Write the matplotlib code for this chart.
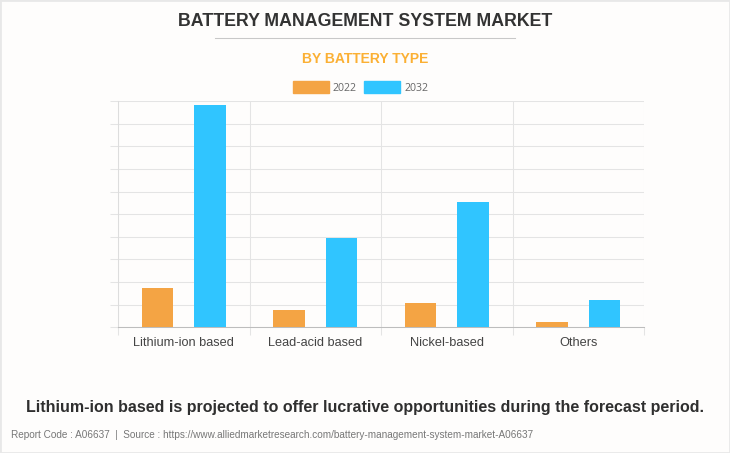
import matplotlib
matplotlib.use("Agg")
import matplotlib.pyplot as plt
import numpy as np
from matplotlib.patches import Patch, Rectangle

categories = ["Lithium-ion based", "Lead-acid based", "Nickel-based", "Others"]
years = ["2022", "2032"]
values_2022 = [1.75, 0.77, 1.08, 0.24]
values_2032 = [9.85, 3.96, 5.52, 1.22]

W, H = 730, 453
bg = "#fefdfc"
grid_col = "#e4e4e4"

plt.rcParams["font.family"] = ["Liberation Sans", "DejaVu Sans"]

fig = plt.figure(figsize=(W / 100, H / 100), dpi=100, facecolor=bg)
ax = fig.add_axes([118 / W, 1 - 327.2 / H, (644 - 118) / W, 226 / H], facecolor=bg)

x = np.arange(len(categories))
ax.bar(x - 0.2, values_2022, 0.24, color="#f4a444", zorder=3)
ax.bar(x + 0.2, values_2032, 0.24, color="#30c5ff", zorder=3)

ax.set_xlim(-0.5, 3.5)
ax.set_ylim(0, 10)
ax.set_yticks(np.arange(0, 11))
ax.set_yticklabels([])
ax.set_xticks(x)
ax.set_xticklabels(categories, fontsize=9.15, color="#444444")
ax.tick_params(axis="x", length=0, pad=7)
ax.tick_params(axis="y", length=5.8, width=0.75, color=grid_col)
ax.set_xticks(np.arange(-0.5, 4), minor=True)
ax.tick_params(axis="x", which="minor", length=5.5, width=0.75, color=grid_col)
ax.grid(True, axis="y", color=grid_col, lw=0.75, zorder=0)
ax.grid(True, axis="x", which="minor", color=grid_col, lw=0.75, zorder=0)
ax.grid(False, axis="x", which="major")
for s in ["top", "right"]:
    ax.spines[s].set_visible(False)
ax.spines["left"].set_color("#dddddd")
ax.spines["left"].set_linewidth(0.75)
ax.spines["bottom"].set_color("#bdbdbd")
ax.spines["bottom"].set_linewidth(0.75)

handles = [Patch(color="#f4a444"), Patch(color="#30c5ff")]
fig.legend(handles, years, loc="center", bbox_to_anchor=(360.5 / W, 1 - 87.5 / H), ncol=2,
           frameon=False, prop={"family": "Open Sans", "size": 7.6},
           labelcolor="#666666", handlelength=3.4, handleheight=1.25,
           handletextpad=0.4, columnspacing=0.67)

fig.text(365 / W, 1 - 21.5 / H, "BATTERY MANAGEMENT SYSTEM MARKET", ha="center", va="center",
         fontsize=12.8, fontweight="bold", color="#333333")
fig.add_artist(plt.Line2D([215 / W, 515 / W], [1 - 37.5 / H] * 2, color="#c8c8c8", lw=0.75))
fig.text(365 / W, 1 - 59 / H, "BY BATTERY TYPE", ha="center", va="center",
         fontsize=10, fontweight="bold", color="#fbb034")
fig.text(365 / W, 1 - 407.5 / H,
         "Lithium-ion based is projected to offer lucrative opportunities during the forecast period.",
         ha="center", va="center", fontsize=11.57, fontweight="bold", color="#2f2f2f")
fig.text(11 / W, 1 - 435 / H,
         "Report Code : A06637  |  Source : https://www.alliedmarketresearch.com/battery-management-system-market-A06637",
         ha="left", va="center", fontsize=7.17, color="#777777")

# faint frame around the card
fig.add_artist(Rectangle((0, 0), 1, 1, transform=fig.transFigure, fill=False,
                         edgecolor="#e8e8e8", lw=2))

fig.savefig("out.png", dpi=100, facecolor=bg)
